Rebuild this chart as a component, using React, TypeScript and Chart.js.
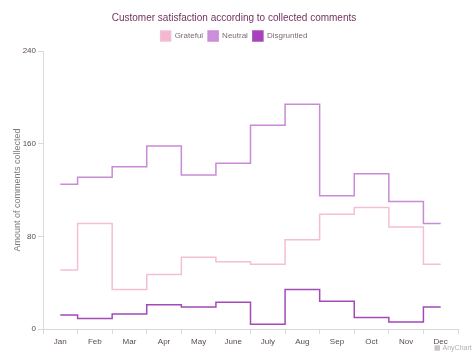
import React, { useEffect, useRef } from "react";
import { Chart, registerables } from "chart.js";

Chart.register(...registerables);

const months = ["Jan", "Feb", "Mar", "Apr", "May", "June", "July", "Aug", "Sep", "Oct", "Nov", "Dec"];
const grateful = [51, 91, 34, 47, 62, 58, 56, 77, 99, 105, 88, 56];
const neutral = [125, 131, 140, 158, 133, 143, 176, 194, 115, 134, 110, 91];
const disgruntled = [12, 9, 13, 21, 19, 23, 4, 34, 24, 10, 6, 19];
const yTicks = [0, 80, 160, 240];

export default function App() {
  const ref = useRef<HTMLCanvasElement | null>(null);
  useEffect(() => {
    document.body.style.margin = "0";
    const ctx = ref.current!;
    const font = "'Liberation Sans', Arial, sans-serif";
    const chart = new Chart(ctx, {
      type: "line",
      data: {
        labels: months,
        datasets: [
          { label: "Grateful", data: grateful, borderColor: "#f4bfd6", backgroundColor: "#f4b7d0", stepped: "middle", borderWidth: 1.5, pointRadius: 0 },
          { label: "Neutral", data: neutral, borderColor: "#c98ad6", backgroundColor: "#cd8fdc", stepped: "middle", borderWidth: 1.5, pointRadius: 0 },
          { label: "Disgruntled", data: disgruntled, borderColor: "#a24ab6", backgroundColor: "#a83fbf", stepped: "middle", borderWidth: 1.5, pointRadius: 0 },
        ],
      },
      options: {
        responsive: false,
        animation: false,
        devicePixelRatio: 1,
        layout: { padding: { left: 0, right: 6, top: 0, bottom: 0 } },
        plugins: {
          title: {
            display: true,
            text: "Customer satisfaction according to collected comments",
            color: "#73325f",
            font: { family: font, size: 10, weight: "normal" },
            padding: { top: 12, bottom: 2 },
          },
          legend: {
            display: true,
            labels: {
              boxWidth: 10,
              boxHeight: 10,
              color: "#7a6a76",
              font: { family: font, size: 8 },
              padding: 5,
            },
          },
          tooltip: { enabled: false },
        },
        scales: {
          x: {
            offset: true,
            grid: { display: true, offset: true, drawOnChartArea: false, drawTicks: true, tickLength: 5, color: "#d9d9d9" },
            border: { display: true, color: "#d9d9d9" },
            ticks: { color: "#5b4a57", font: { family: font, size: 8 }, padding: 3, maxRotation: 0, autoSkip: false },
            afterFit: (s: any) => { s.height = 26; },
          },
          y: {
            min: 0,
            max: 240,
            afterBuildTicks: (s: any) => { s.ticks = yTicks.map((v) => ({ value: v })); },
            grid: { display: true, drawOnChartArea: false, drawTicks: true, tickLength: 5, color: "#d9d9d9" },
            border: { display: true, color: "#d9d9d9" },
            ticks: { color: "#5b4a57", font: { family: font, size: 8 }, padding: 2 },
            title: {
              display: true,
              text: "Amount of comments collected",
              color: "#7a7a7a",
              font: { family: font, size: 9 },
              padding: { top: 12, bottom: 4 },
            },
            afterFit: (s: any) => { s.width = 43; },
          },
          y2: {
            position: "right",
            display: true,
            min: 0,
            max: 240,
            grid: { display: false },
            border: { display: false },
            ticks: { display: false },
            afterFit: (s: any) => { s.width = 10; },
          },
        },
      },
    });
    return () => chart.destroy();
  }, []);
  return (
    <div style={{ position: "relative", width: 474, height: 355 }}>
      <canvas ref={ref} width={474} height={355} />
      <span style={{ position: "absolute", left: 434, top: 344, fontSize: 7, lineHeight: 1, whiteSpace: "nowrap", color: "#b0b0b0", fontFamily: "'Liberation Sans', Arial, sans-serif" }}>▦ AnyChart</span>
    </div>
  );
}
